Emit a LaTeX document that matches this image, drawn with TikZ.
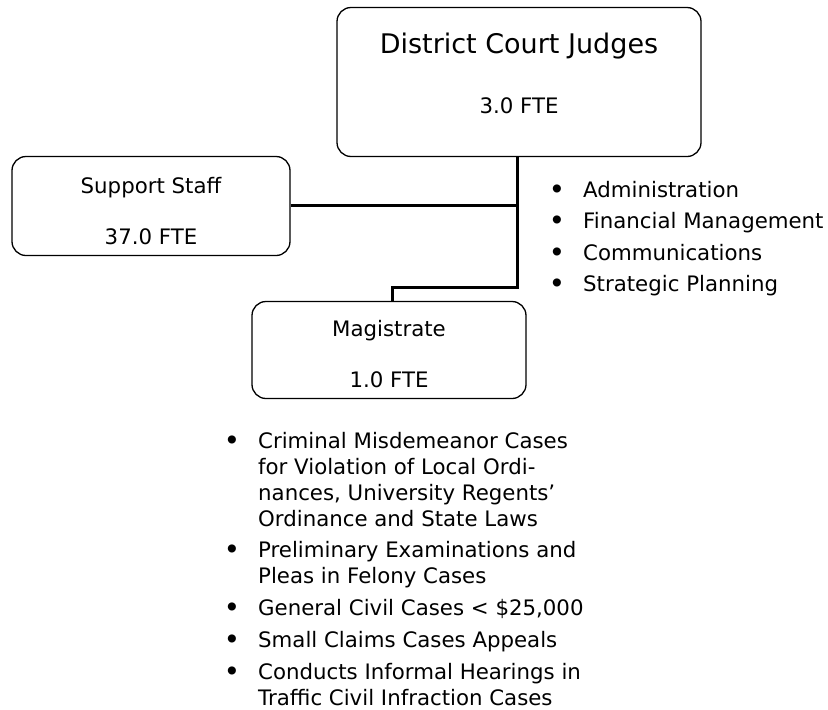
\documentclass[tikz,border=0pt]{standalone}
\usepackage{fontspec}
\setmainfont{DejaVu Sans}
\usetikzlibrary{positioning}

\begin{document}
\begin{tikzpicture}[x=1pt, y=-1pt,
    box/.style={draw, line width=1.3pt, rounded corners=14pt, inner sep=0pt},
    conn/.style={line width=3pt},
    boxtext/.style={anchor=base, font=\fontsize{21.3}{25}\selectfont},
    dot/.style={anchor=base, font=\fontsize{23}{26}\bfseries},
    itemtext/.style={anchor=base west, inner sep=0pt, font=\fontsize{21.3}{26}\selectfont}]
    \useasboundingbox (0,0) rectangle (828,710);

    % boxes
    \node[box, minimum width=364, minimum height=149] (judges) at (519,82) {};
    \node[box, minimum width=278, minimum height=99] (support) at (151,206) {};
    \node[box, minimum width=274, minimum height=97] (magistrate) at (389,350) {};

    % box labels
    \node[boxtext, font=\fontsize{27}{32}\selectfont] (judgesname) at (519,53) {District Court Judges};
    \node[boxtext] (judgesfte) at (519,113) {3.0 FTE};
    \node[boxtext] (supportname) at (151,193) {Support Staff};
    \node[boxtext] (supportfte) at (151,244) {37.0 FTE};
    \node[boxtext] (magname) at (389,336) {Magistrate};
    \node[boxtext] (magfte) at (389,387) {1.0 FTE};

    % connectors
    \coordinate (tee) at (517.5,205);
    \coordinate (hub) at (517.5,287);
    \coordinate (drop) at (392,287);
    \draw[conn] (judges.south -| tee) -- (hub) -- (drop) -- (drop |- magistrate.north);
    \draw[conn] (support.east |- tee) -- (tee);

    % judges duties
    \foreach \y/\txt [count=\i] in {197/Administration, 228/Financial Management,
                                   260/Communications, 291/Strategic Planning} {
        \node[dot] (jdot\i) at (557,\y) {•};
        \node[itemtext] (jduty\i) at (583,\y) {\txt};
    }

    % magistrate duties
    \foreach \y/\txt [count=\i] in {
        448/{\begin{tabular}[t]{@{}l@{}}Criminal Misdemeanor Cases\\for Violation of Local Ordi-\\nances, University Regents’\\Ordinance and State Laws\end{tabular}},
        557/{\begin{tabular}[t]{@{}l@{}}Preliminary Examinations and\\Pleas in Felony Cases\end{tabular}},
        615/{General Civil Cases < \$25,000},
        647/{Small Claims Cases Appeals},
        679/{\begin{tabular}[t]{@{}l@{}}Conducts Informal Hearings in\\Traffic Civil Infraction Cases\end{tabular}}} {
        \node[dot] (mdot\i) at (232,\y) {•};
        \node[itemtext] (mduty\i) at (258,\y) {\txt};
    }
\end{tikzpicture}
\end{document}
